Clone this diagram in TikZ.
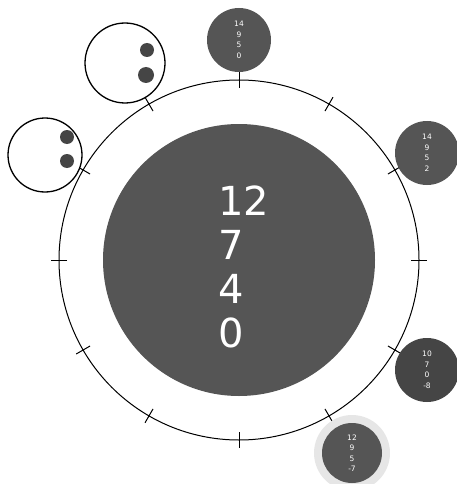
\documentclass[tikz,border=0pt]{standalone}
\usepackage{fontspec}
\setmainfont{DejaVu Sans}
\usetikzlibrary{calc}
\definecolor{disk}{HTML}{555555}
\definecolor{diskdark}{HTML}{454545}
\definecolor{halo}{HTML}{E6E6E6}
\begin{document}
\begin{tikzpicture}[x=1pt,y=-1pt,
  ringline/.style={line width=1pt,draw=black},
  tickmark/.style={line width=1pt,draw=black},
  smalldisk/.style={circle,fill=disk,minimum size=64pt,inner sep=0pt,text=white,align=center,font=\fontsize{7.5}{10.5}\selectfont},
  emptycirc/.style={circle,draw=black,line width=1.3pt,fill=white,inner sep=0pt},
  dot/.style={circle,fill=diskdark,inner sep=0pt,minimum size=14pt}]
\useasboundingbox (0,0) rectangle (456,484);
\coordinate (c) at (239,260);
% ring
\draw[ringline] (c) circle[radius=180];
\foreach \a in {0,30,...,330} {
  \draw[tickmark] ($(c)+(\a:172)$) -- ($(c)+(\a:188)$);
}
% inner disk
\node[circle,fill=disk,minimum size=272pt,inner sep=0pt] (core) at (c) {};
\node[text=white,align=left,font=\fontsize{40}{44}\selectfont,inner sep=0pt] (coretext) at (244,267) {12\\7\\4\\0};
% small disks
\node[smalldisk] (d1) at (239,40) {14\\9\\5\\0};
\node[smalldisk] (d2) at (427,153) {14\\9\\5\\2};
\node[smalldisk,fill=diskdark] (d3) at (427,370) {10\\7\\0\\-8};
\node[circle,fill=halo,minimum size=76pt,inner sep=0pt] (h4) at (352,453) {};
\node[smalldisk,minimum size=60pt] (d4) at (352,453) {12\\9\\5\\-7};
% empty circles
\node[emptycirc,minimum size=80pt] (e1) at (125,63) {};
\node[dot] (e1a) at (147,50) {};
\node[dot,minimum size=16pt] (e1b) at (146,75) {};
\node[emptycirc,minimum size=74pt] (e2) at (45,155) {};
\node[dot] (e2a) at (67,137) {};
\node[dot] (e2b) at (67,161) {};
\end{tikzpicture}
\end{document}
